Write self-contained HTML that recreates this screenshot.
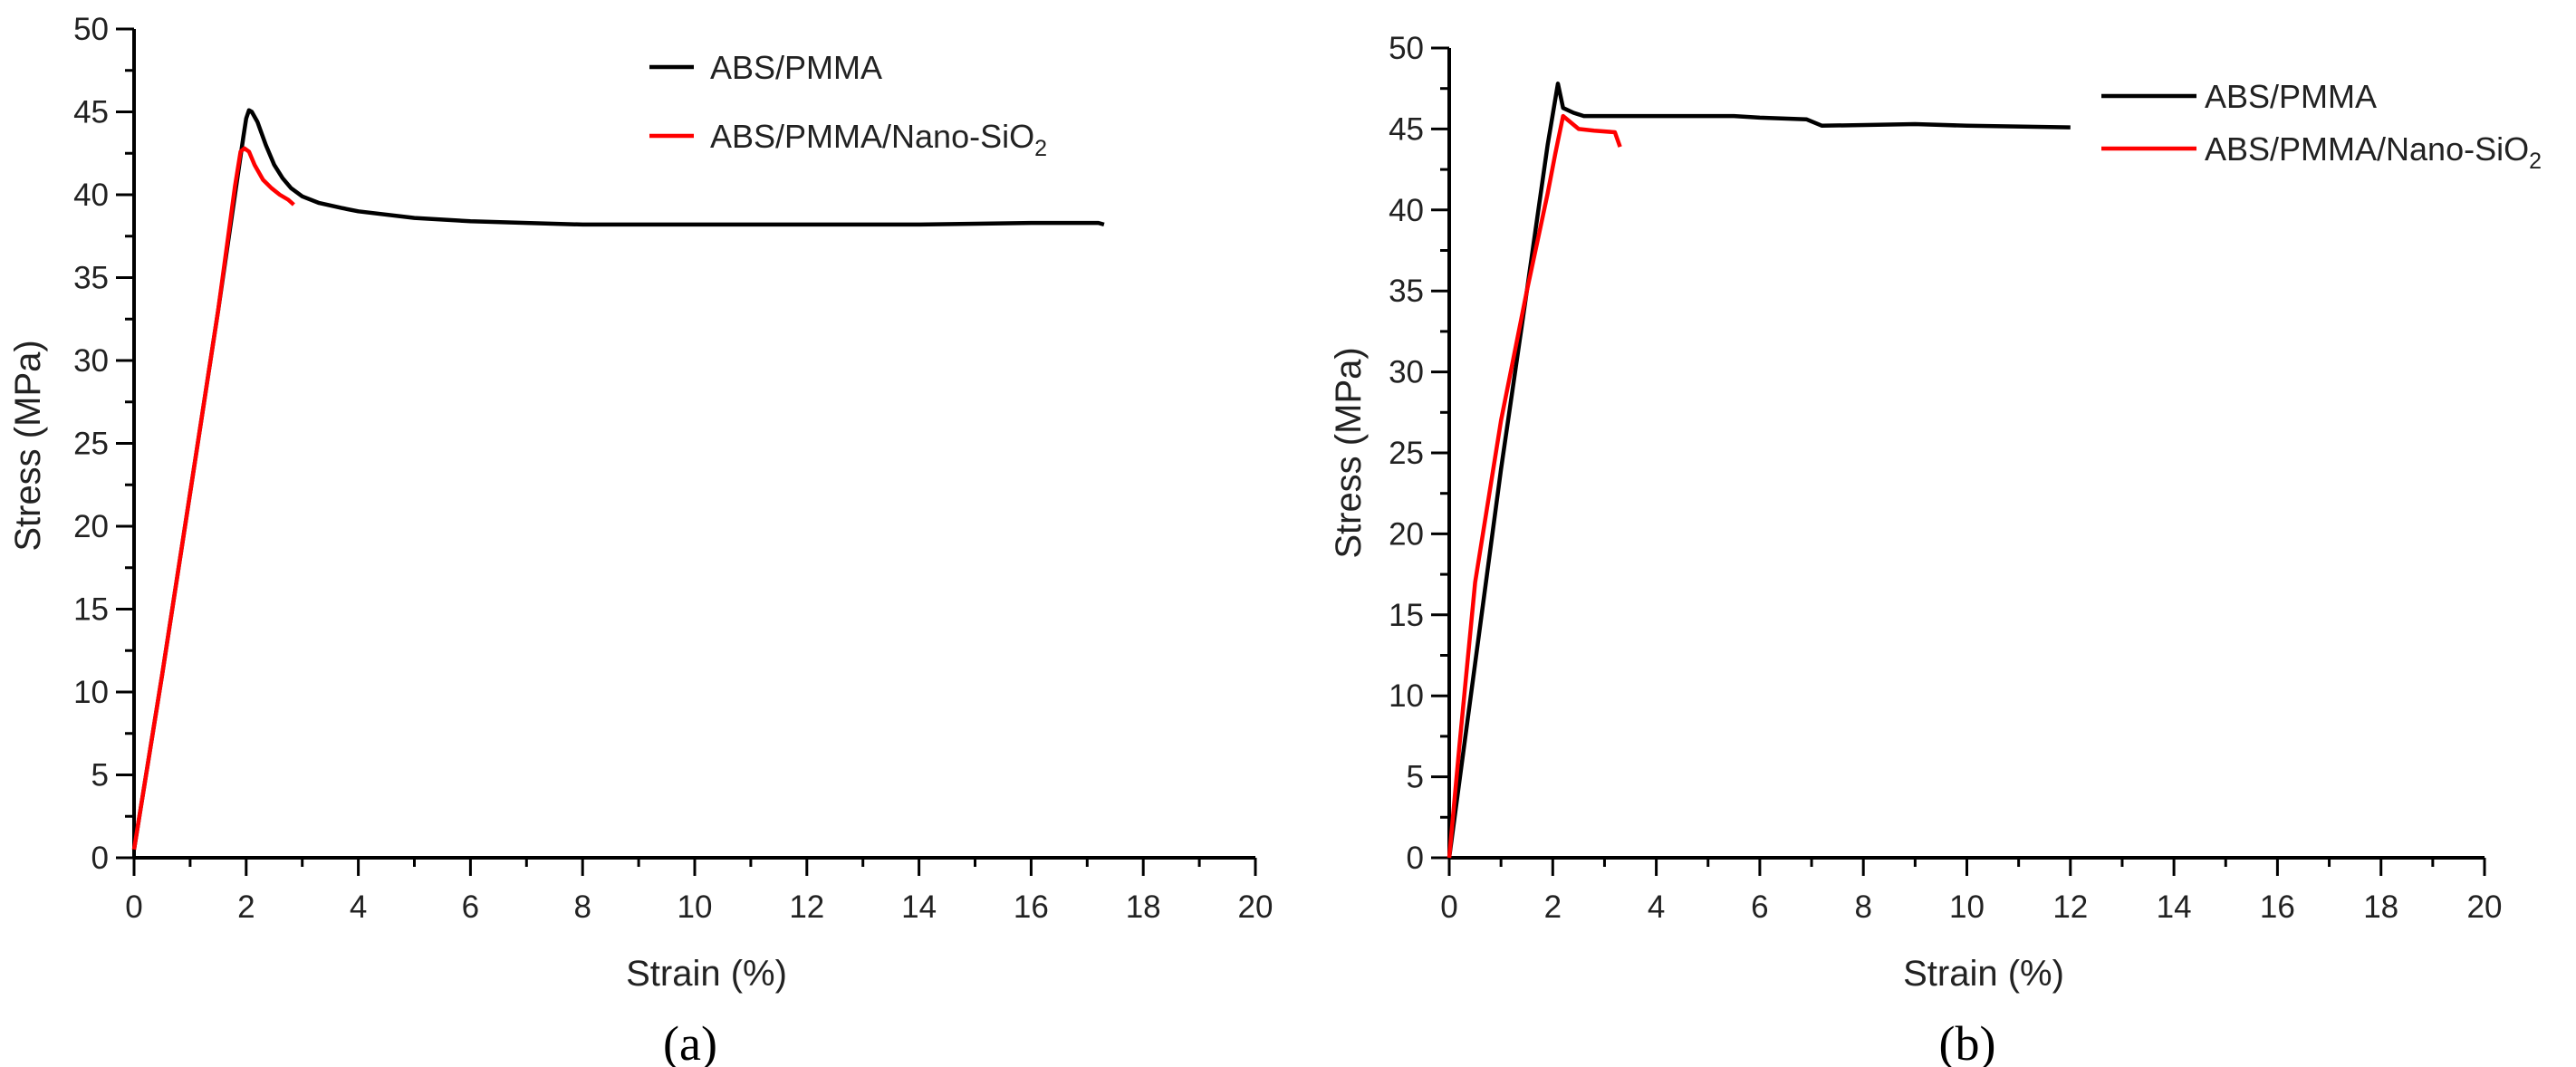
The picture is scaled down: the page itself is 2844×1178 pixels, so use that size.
<!DOCTYPE html>
<html><head><meta charset="utf-8"><style>
html,body{margin:0;padding:0;background:#fff;}
svg{display:block;font-family:"Liberation Sans",Arial,sans-serif;}
</style></head><body>
<svg id="s" width="2844" height="1178" viewBox="0 0 2844 1178" xmlns="http://www.w3.org/2000/svg">
<g id="ga"></g>
<g id="gb"></g>
</svg>
<script>
const xTicks=[0,2,4,6,8,10,12,14,16,18,20];
const yTicks=[0,5,10,15,20,25,30,35,40,45,50];
const seriesNames=["ABS/PMMA","ABS/PMMA/Nano-SiO"];
const aBlackX=[0,0.5,1,1.5,1.8,1.95,2.0,2.05,2.1,2.2,2.35,2.5,2.65,2.8,3.0,3.3,3.7,4,5,6,7,8,10,12,14,16,17.2,17.3];
const aBlackY=[0.5,11,22,33,40,43.5,44.6,45.1,45.0,44.4,43.0,41.8,41.0,40.4,39.9,39.5,39.2,39,38.6,38.4,38.3,38.2,38.2,38.2,38.2,38.3,38.3,38.2];
const aRedX=[0,0.5,1,1.5,1.8,1.9,1.97,2.05,2.15,2.3,2.45,2.6,2.75,2.85];
const aRedY=[0.5,11,22,33,40.5,42.6,42.8,42.6,41.8,40.9,40.4,40.0,39.7,39.4];
const bBlackX=[0,0.5,1,1.5,1.9,2.1,2.2,2.4,2.6,4,5.5,6,6.9,7.2,9,10,12];
const bBlackY=[0,12,24,35,44,47.8,46.3,46,45.8,45.8,45.8,45.7,45.6,45.2,45.3,45.2,45.1];
const bRedX=[0,0.2,0.5,1,1.5,1.9,2.05,2.2,2.5,2.8,3.2,3.3];
const bRedY=[0,7,17,27,35,41,43.5,45.8,45,44.9,44.8,43.9];
const NS="http://www.w3.org/2000/svg";
function mk(p,t,a){const e=document.createElementNS(NS,t);for(const k in a)e.setAttribute(k,a[k]);p.appendChild(e);return e;}
function chart(g,cfg){
  const sx=v=>cfg.x0+(cfg.x1-cfg.x0)*v/20, sy=v=>cfg.y0-(cfg.y0-cfg.y1)*v/50;
  let e=mk(g,'line',{x1:sx(0),y1:sy(0),x2:sx(20),y2:sy(0),stroke:'#000','stroke-width':4});
  
  
  e=mk(g,'line',{x1:sx(0),y1:sy(0),x2:sx(0),y2:sy(50),stroke:'#000','stroke-width':4});
  
  
  for(let i=0;i<=20;i++){const x=sx(i);const maj=i%2==0;
    mk(g,'line',{x1:x,y1:sy(0),x2:x,y2:sy(0)+(maj?20:10),stroke:'#000','stroke-width':3});}
  for(let i=0;i<=20;i++){const y=sy(i*2.5);const maj=i%2==0;
    mk(g,'line',{x1:sx(0),y1:y,x2:sx(0)-(maj?20:10),y2:y,stroke:'#000','stroke-width':3});}
  xTicks.forEach(v=>{e=mk(g,'text',{x:sx(v),y:sy(0)+66,'font-size':35,'text-anchor':'middle',fill:'#222'});e.textContent=v;
    
    });
  yTicks.forEach(v=>{e=mk(g,'text',{x:sx(0)-28,y:sy(v)+12,'font-size':35,'text-anchor':'end',fill:'#222'});e.textContent=v;
    
    });
  e=mk(g,'text',{x:cfg.xt,y:1088,'font-size':40,'text-anchor':'middle',fill:'#222'});e.textContent='Strain (%)';
  
  
  e=mk(g,'text',{x:0,y:0,'font-size':40,'text-anchor':'middle',fill:'#222',transform:`translate(${cfg.yt},${cfg.ytY}) rotate(-90)`});e.textContent='Stress (MPa)';
  
  
  e=mk(g,'text',{x:cfg.xt-18,y:1170,'font-size':54,'text-anchor':'middle','font-family':'"Liberation Serif",serif',fill:'#000'});e.textContent=cfg.label;
  
  
  const ser=[[cfg.bx,cfg.by,'#000'],[cfg.rx,cfg.ry,'#f00']];
  ser.forEach((s,k)=>{const pts=s[0].map((v,i)=>sx(v).toFixed(1)+','+sy(s[1][i]).toFixed(1)).join(' ');
    e=mk(g,'polyline',{points:pts,fill:'none',stroke:s[2],'stroke-width':4.5,'stroke-linejoin':'round'});
    
    });
  ser.forEach((s,k)=>{const ly=cfg.ly[k];
    e=mk(g,'line',{x1:cfg.lx0,y1:ly,x2:cfg.lx1,y2:ly,stroke:s[2],'stroke-width':4.5});
    
    
    e=mk(g,'text',{x:cfg.ltx,y:ly+13,'font-size':36,fill:'#222'});e.textContent=seriesNames[k];
    
    
    if(k){const t=mk(e,'tspan',{'font-size':25,dy:9});t.textContent='2';}});
}
chart(document.getElementById('ga'),{x0:148,x1:1386,y0:947,y1:32,bx:aBlackX,by:aBlackY,rx:aRedX,ry:aRedY,
  xt:780,yt:44,ytY:492,label:'(a)',lx0:717,lx1:766,ltx:784,ly:[74,150]});
chart(document.getElementById('gb'),{x0:1600,x1:2743,y0:947,y1:53,bx:bBlackX,by:bBlackY,rx:bRedX,ry:bRedY,
  xt:2190,yt:1502,ytY:500,label:'(b)',lx0:2320,lx1:2425,ltx:2434,ly:[106,164]});
</script>
</body></html>
